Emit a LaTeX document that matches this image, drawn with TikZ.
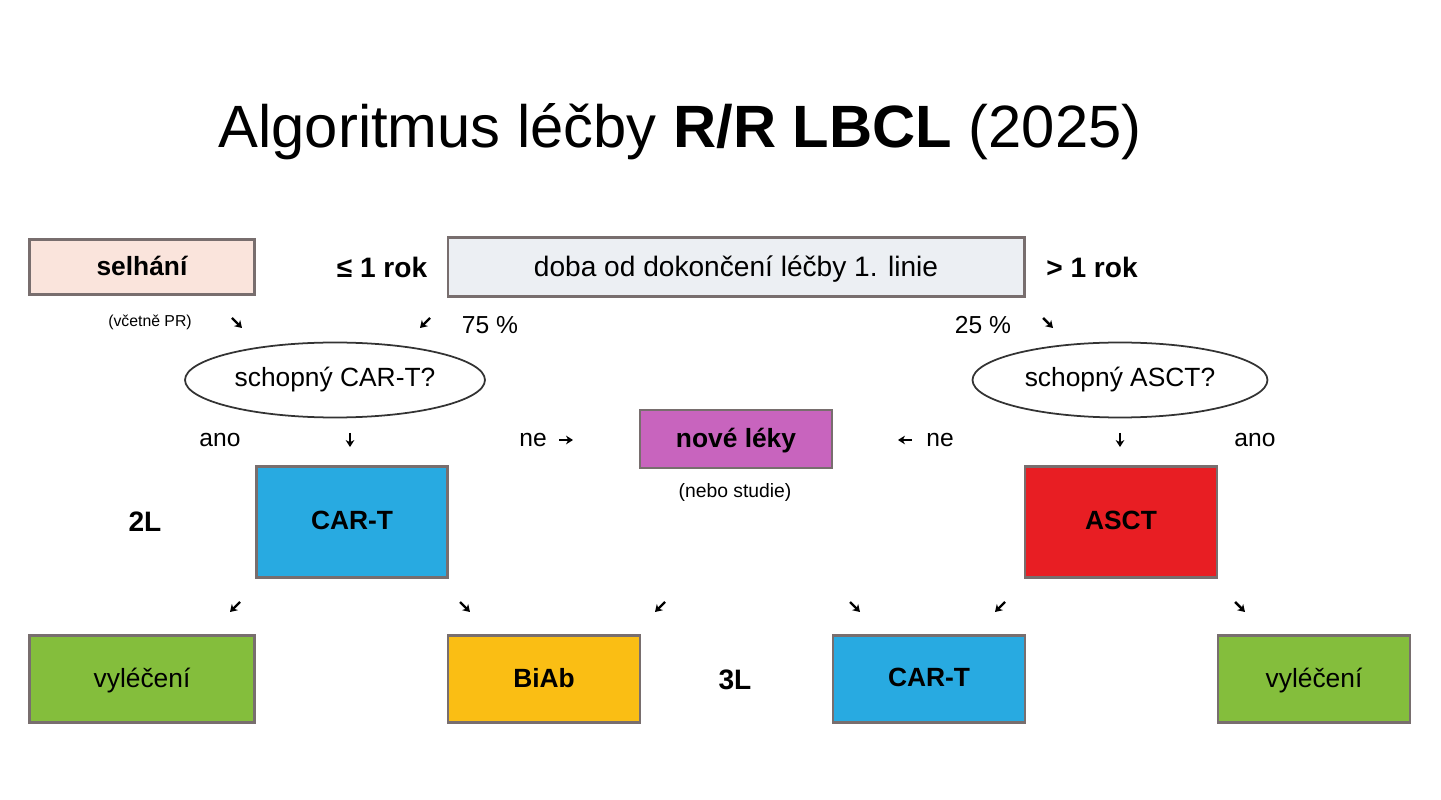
\documentclass[tikz,border=0pt]{standalone}
\usepackage{fontspec}
\setmainfont{Liberation Sans}
\usetikzlibrary{shapes.geometric,arrows.meta}
\definecolor{pinkbox}{RGB}{250,228,220}
\definecolor{greybox}{RGB}{236,239,243}
\definecolor{purplebox}{RGB}{200,100,190}
\definecolor{bluebox}{RGB}{40,170,225}
\definecolor{redbox}{RGB}{232,30,35}
\definecolor{greenbox}{RGB}{132,190,60}
\definecolor{yellowbox}{RGB}{250,190,20}
\definecolor{edge}{RGB}{120,110,110}
\begin{document}
\begin{tikzpicture}[x=0.02cm, y=-0.02cm,
    box/.style={rectangle, draw=edge, line width=1.2pt, inner sep=0pt, text depth=0.15em, font=\fontsize{15}{17}\selectfont\bfseries},
    question/.style={ellipse, draw=black!80, line width=1pt, minimum width=6cm, minimum height=1.5cm, inner sep=0pt, font=\fontsize{15}{17}\selectfont},
    lbl/.style={font=\fontsize{14}{16}\selectfont},
    blbl/.style={font=\fontsize{16}{18}\selectfont\bfseries},
    tip/.style={-{Stealth[length=4pt,width=5pt]}, line width=1.4pt}
]
    \useasboundingbox (0,0) rectangle (1441,800);
    \node (title) at (680,132) {\fontsize{34}{38}\selectfont Algoritmus léčby \textbf{R/R LBCL} (2025)};

    % top row
    \node[box, fill=pinkbox, minimum width=4.5cm, minimum height=1.1cm] (fail) at (142,267) {selhání};
    \node[blbl] (le) at (382,267) {≤ 1 rok};
    \node[box, fill=greybox, minimum width=11.54cm, minimum height=1.18cm, font=\fontsize{16}{18}\selectfont] (time) at (736,267) {doba od dokončení léčby 1. linie};
    \node[blbl] (gt) at (1092,267) {> 1 rok};
    \node[font=\fontsize{9}{10}\selectfont] (incl) at (150,322) {(včetně PR)};
    \node[lbl] (p75) at (490,325) {75 \%};
    \node[lbl] (p25) at (983,325) {25 \%};

    % questions
    \node[question] (qcar) at (335,380) {schopný CAR-T?};
    \node[question, minimum width=5.9cm] (qasct) at (1120,380) {schopný ASCT?};
    \node[lbl] (yes1) at (220,440) {ano};
    \node[lbl] (no1) at (533,440) {ne};
    \node[lbl] (no2) at (940,440) {ne};
    \node[lbl] (yes2) at (1255,440) {ano};

    % second line
    \node[box, fill=purplebox, minimum width=3.84cm, minimum height=1.16cm] (new) at (736,439) {nové léky};
    \node[font=\fontsize{11}{13}\selectfont] (study) at (735,492) {(nebo studie)};
    \node[blbl] (l2) at (145,522) {2L};
    \node[box, fill=bluebox, minimum width=3.82cm, minimum height=2.22cm] (cart) at (352,522) {CAR-T};
    \node[box, fill=redbox, minimum width=3.84cm, minimum height=2.22cm] (asct) at (1121,522) {ASCT};

    % third line
    \node[box, fill=greenbox, minimum width=4.5cm, minimum height=1.74cm, font=\fontsize{15}{17}\selectfont] (cure1) at (142,679) {vyléčení};
    \node[box, fill=yellowbox, minimum width=3.84cm, minimum height=1.74cm] (biab) at (544,679) {BiAb};
    \node[blbl] (l3) at (735,680) {3L};
    \node[box, fill=bluebox, minimum width=3.84cm, minimum height=1.74cm] (cart3) at (929,679) {CAR-T};
    \node[box, fill=greenbox, minimum width=3.84cm, minimum height=1.74cm, font=\fontsize{15}{17}\selectfont] (cure2) at (1314,679) {vyléčení};

    % small arrows
    \foreach \n/\x/\y/\dx/\dy in {a1/237/323/1/1, a2/425/323/-1/1, a3/1048/323/1/1,
        a4/350/440/0/1.4, a5/1120/440/0/1.4, a6/566/440/1.4/0, a7/905/440/-1.4/0,
        a8/235/607/-1/1, a9/465/607/1/1, a10/660/607/-1/1, a11/855/607/1/1, a12/1000/607/-1/1, a13/1240/607/1/1}{
        \coordinate (\n s) at ({\x-5*\dx},{\y-5*\dy});
        \coordinate (\n e) at ({\x+5*\dx},{\y+5*\dy});
        \draw[tip] (\n s) -- (\n e);
    }
\end{tikzpicture}
\end{document}
